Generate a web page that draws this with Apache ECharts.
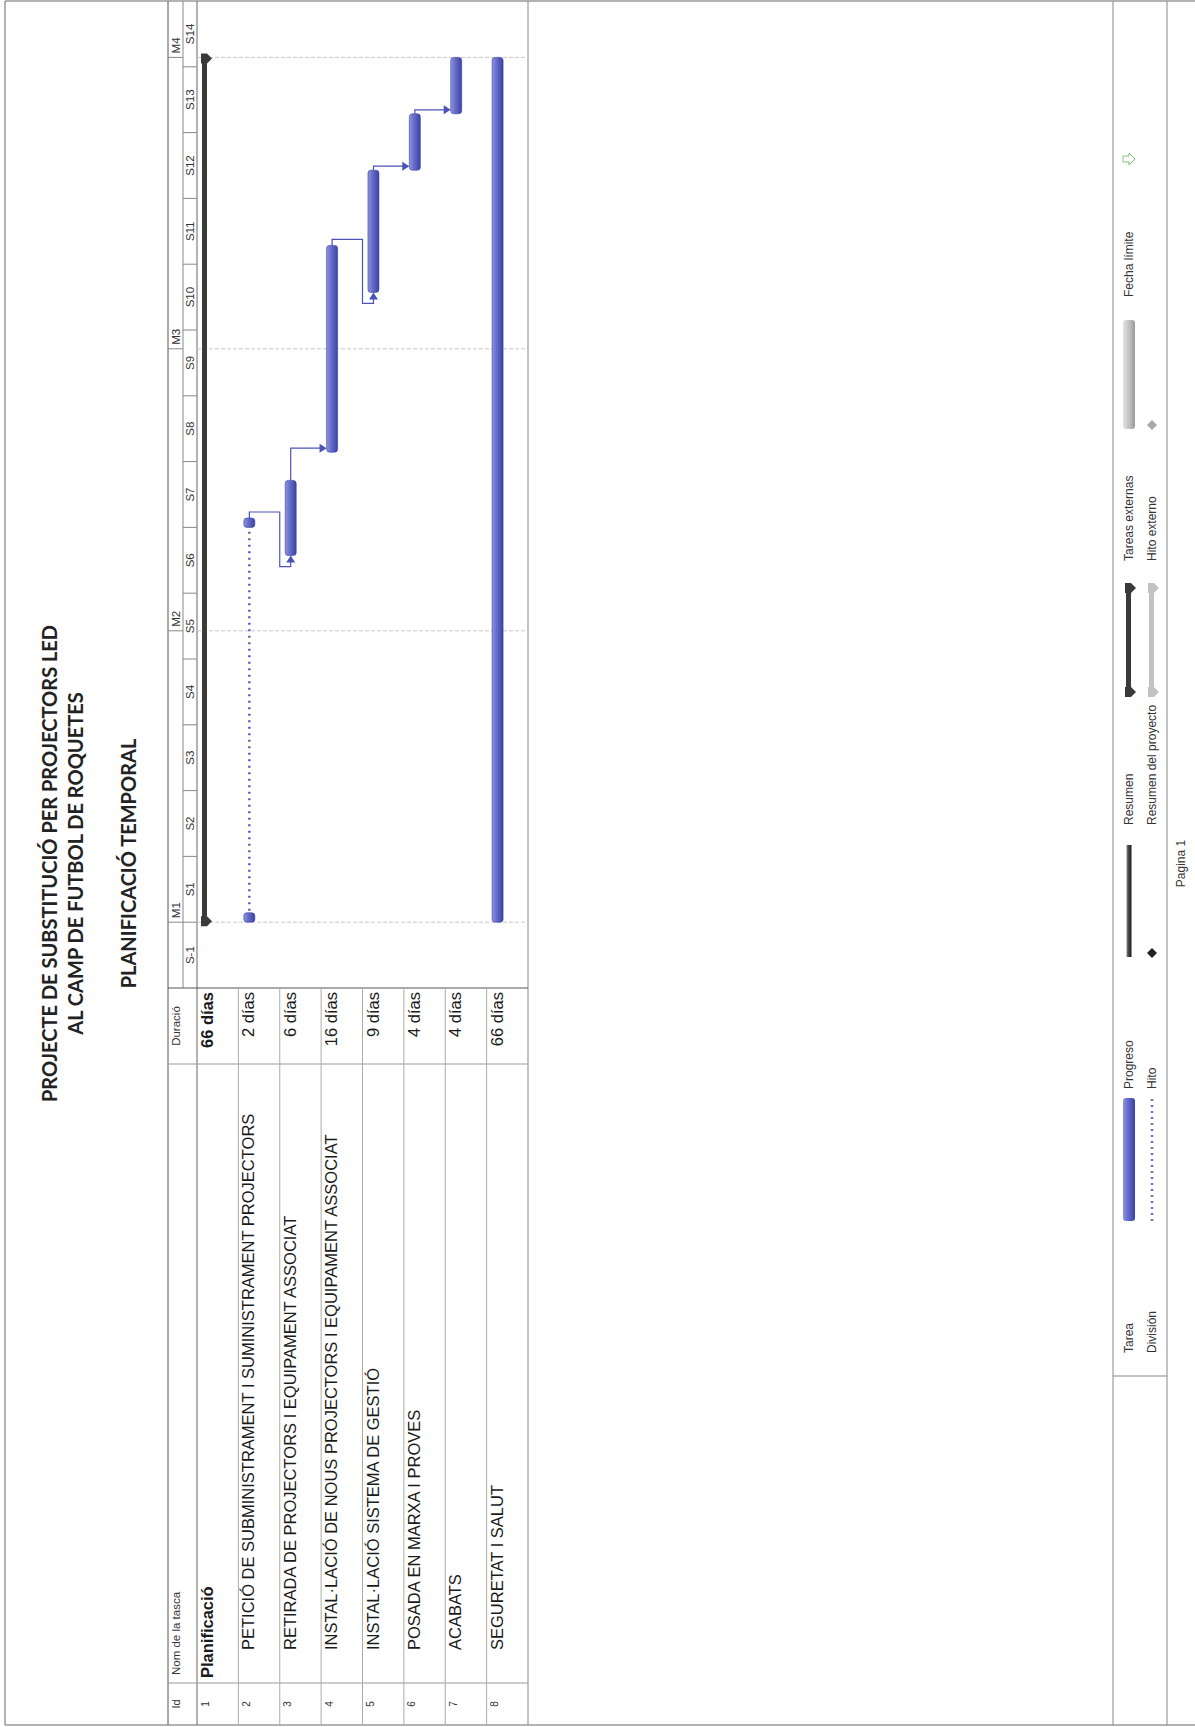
<!DOCTYPE html>
<html>
<head>
<meta charset="utf-8">
<title>Planificació temporal</title>
<script src="https://cdn.jsdelivr.net/npm/echarts@6/dist/echarts.min.js"></script>
<style>
  html, body { margin: 0; padding: 0; background: #fff; overflow: hidden; }
  #page { position: relative; width: 1195px; height: 1727px; overflow: hidden; }
  /* the sheet is printed landscape and shown turned a quarter to the left */
  #chart { position: absolute; left: 0; top: 0; width: 1727px; height: 1195px;
    transform-origin: 0 0; transform: translateY(1727px) rotate(-90deg); }
</style>
</head>
<body>
<div id="page"><div id="chart"></div></div>
<script>
// ---- data ----
const weekLabels = ['S-1', 'S1', 'S2', 'S3', 'S4', 'S5', 'S6', 'S7', 'S8', 'S9', 'S10', 'S11', 'S12', 'S13', 'S14']
const monthLabels = ['M1', 'M2', 'M3', 'M4']
const monthStarts = [0, 31, 61, 92] // days from project start
const taskIds = ['1', '2', '3', '4', '5', '6', '7', '8']
const taskNames = [
  'Planificació',
  'PETICIÓ DE SUBMINISTRAMENT I SUMINISTRAMENT PROJECTORS',
  'RETIRADA DE PROJECTORS I EQUIPAMENT ASSOCIAT',
  'INSTAL·LACIÓ DE NOUS PROJECTORS I EQUIPAMENT ASSOCIAT',
  'INSTAL·LACIÓ SISTEMA DE GESTIÓ',
  'POSADA EN MARXA I PROVES',
  'ACABATS',
  'SEGURETAT I SALUT'
]
const taskDurations = ['66 días', '2 días', '6 días', '16 días', '9 días', '4 días', '4 días', '66 días']
const taskKinds = ['summary', 'task', 'task', 'task', 'task', 'task', 'task', 'task']
const taskLevels = [0, 1, 1, 1, 1, 1, 1, 1]
// [start, end] in days from project start; task 2 is split in two parts
const taskSegments = [
  [[0, 92]],
  [[0, 1], [42, 43]],
  [[39, 47]],
  [[50, 72]],
  [[67, 80]],
  [[80, 86]],
  [[86, 92]],
  [[0, 92]]
]
const taskLinks = [[1, 2], [2, 3], [3, 4], [4, 5], [5, 6]] // predecessor row -> successor row
const legendRowA = ['Tarea', 'Progreso', 'Resumen', 'Tareas externas', 'Fecha límite']
const legendRowB = ['División', 'Hito', 'Resumen del proyecto', 'Hito externo']

// ---- layout (unrotated sheet) ----
const PAGE_W = 1727
const PAGE_H = 1195
const FRAME = { left: 2, right: 1726, top: 5 }
const BOX = { top: 168, mid: 183, head: 197, bottom: 528 }
const COL = { id: 44, name: 663, dur: 739 }
const LEG = { top: 1113, bottom: 1167, split: 351, rowA: 1129, rowB: 1152 }
const SANS = '"Liberation Sans", Arial, sans-serif'
const firstDay = -7
const lastDay = firstDay + weekLabels.length * 7

const blueFill = () => new echarts.graphic.LinearGradient(0, 0, 0, 1, [
  { offset: 0, color: '#9096dc' },
  { offset: 0.35, color: '#6b72cd' },
  { offset: 1, color: '#3a42a6' }
])
const darkFill = () => new echarts.graphic.LinearGradient(0, 0, 0, 1, [
  { offset: 0, color: '#8a8a8a' },
  { offset: 0.4, color: '#474747' },
  { offset: 1, color: '#1c1c1c' }
])
const greyFill = () => new echarts.graphic.LinearGradient(0, 0, 0, 1, [
  { offset: 0, color: '#e2e2e2' },
  { offset: 0.5, color: '#c4c4c4' },
  { offset: 1, color: '#9a9a9a' }
])

function txt (text, x, y, font, align, fill) {
  return {
    type: 'text',
    silent: true,
    style: {
      text: text, x: x, y: y, font: font, fill: fill || '#1a1a1a',
      align: align || 'left', textAlign: align || 'left',
      verticalAlign: 'middle', textVerticalAlign: 'middle'
    }
  }
}
function hline (y, x1, x2, color, w) {
  return { type: 'line', silent: true, shape: { x1: x1, y1: y, x2: x2, y2: y }, style: { stroke: color, lineWidth: w || 1 } }
}
function vline (x, y1, y2, color, w) {
  return { type: 'line', silent: true, shape: { x1: x, y1: y1, x2: x, y2: y2 }, style: { stroke: color, lineWidth: w || 1 } }
}
function summaryShape (x0, x1, top, fill) {
  // thin bar with the pointed caps at both ends
  const cap = (x) => ({
    type: 'polygon',
    shape: { points: [[x - 5, top - 1], [x + 5, top - 1], [x + 5, top + 5], [x, top + 10], [x - 5, top + 5]] },
    style: { fill: fill }
  })
  return [
    { type: 'rect', shape: { x: x0, y: top, width: x1 - x0, height: 5 }, style: { fill: fill } },
    cap(x0 + 1), cap(x1 - 1)
  ]
}
function diamond (x, y, r, fill) {
  return { type: 'polygon', silent: true, shape: { points: [[x, y - r], [x + r, y], [x, y + r], [x - r, y]] }, style: { fill: fill } }
}

// ---- static sheet: frame, title, table header, legend ----
const legendCols = [374, 638, 902, 1166, 1430]
const legendFont = '12px ' + SANS
const graphics = [
  hline(FRAME.top, FRAME.left, FRAME.right, '#9a9a9a', 1.5),
  vline(FRAME.left, FRAME.top, PAGE_H, '#9a9a9a', 1.5),
  vline(FRAME.right, FRAME.top, PAGE_H, '#9a9a9a', 1.5),
  hline(BOX.top, FRAME.left, FRAME.right, '#555'),
  hline(BOX.head, FRAME.left, FRAME.right, '#666'),
  hline(BOX.bottom, FRAME.left, FRAME.right, '#888'),
  hline(BOX.mid, COL.dur, FRAME.right, '#888'),
  vline(COL.id, BOX.top, BOX.bottom, '#999'),
  vline(COL.name, BOX.top, BOX.bottom, '#999'),
  vline(COL.dur, BOX.top, BOX.bottom, '#555'),
  hline(LEG.top, FRAME.left, FRAME.right, '#888'),
  hline(LEG.bottom, FRAME.left, FRAME.right, '#888'),
  vline(LEG.split, LEG.top, LEG.bottom, '#888'),
  txt('PROJECTE DE SUBSTITUCIÓ PER PROJECTORS LED', PAGE_W / 2, 49, 'bold 20px Lato, "Open Sans", sans-serif', 'center', '#222'),
  txt('AL CAMP DE FUTBOL DE ROQUETES', PAGE_W / 2, 75, 'bold 20px Lato, "Open Sans", sans-serif', 'center', '#222'),
  txt('PLANIFICACIÓ TEMPORAL', PAGE_W / 2, 128, 'bold 20px Lato, "Open Sans", sans-serif', 'center', '#222'),
  txt('Id', (FRAME.left + COL.id) / 2, BOX.top + 8, '11px ' + SANS, 'center', '#333'),
  txt('Nom de la tasca', COL.id + 8, BOX.top + 8, '11.5px ' + SANS, 'left', '#333'),
  txt('Duració', (COL.name + COL.dur) / 2, BOX.top + 8, '11.5px ' + SANS, 'center', '#333'),
  txt('Pagina 1', PAGE_W / 2, 1181, legendFont, 'center', '#333')
]
legendRowA.forEach((t, i) => graphics.push(txt(t, legendCols[i], LEG.rowA, legendFont, 'left', '#333')))
legendRowB.forEach((t, i) => graphics.push(txt(t, legendCols[i], LEG.rowB, legendFont, 'left', '#333')))
const s0 = legendCols.map(c => c + 132)
graphics.push(
  { type: 'rect', silent: true, shape: { x: s0[0], y: LEG.rowA - 6, width: 123, height: 12, r: 3 }, style: { fill: blueFill() } },
  { type: 'line', silent: true, shape: { x1: s0[0], y1: LEG.rowB, x2: s0[0] + 123, y2: LEG.rowB }, style: { stroke: '#6b72cd', lineWidth: 2.5, lineDash: [2, 4] } },
  { type: 'rect', silent: true, shape: { x: s0[1], y: LEG.rowA - 2.5, width: 112, height: 5 }, style: { fill: darkFill() } },
  diamond(s0[1] + 4, LEG.rowB, 5, '#222'),
  { type: 'group', silent: true, children: summaryShape(s0[2], s0[2] + 106, LEG.rowA - 3, '#3a3a3a') },
  { type: 'group', silent: true, children: summaryShape(s0[2], s0[2] + 106, LEG.rowB - 3, '#c2c2c2') },
  { type: 'rect', silent: true, shape: { x: s0[3], y: LEG.rowA - 6, width: 109, height: 12, r: 3 }, style: { fill: greyFill() } },
  diamond(s0[3] + 4, LEG.rowB, 5, '#a8a8a8'),
  {
    type: 'polygon',
    silent: true,
    shape: { points: [[s0[4] + 3, LEG.rowA - 6], [s0[4] + 9, LEG.rowA - 6], [s0[4] + 9, LEG.rowA], [s0[4] + 12, LEG.rowA], [s0[4] + 6, LEG.rowA + 6], [s0[4], LEG.rowA], [s0[4] + 3, LEG.rowA]] },
    style: { fill: '#fff', stroke: '#7cc47c', lineWidth: 1 }
  }
)

// ---- series helpers ----
const barData = []
const splitData = []
taskSegments.forEach((segs, row) => {
  segs.forEach((seg, k) => {
    barData.push([seg[0], row, seg[1], taskKinds[row] === 'summary' ? 1 : 0])
    if (k > 0) splitData.push([segs[k - 1][1], row, seg[0]])
  })
})
const linkData = taskLinks.map(([a, b]) => {
  const pa = taskSegments[a]
  return [pa[pa.length - 1][1], a, taskSegments[b][0][0], b]
})

function barCenter (api, row) {
  const c = api.coord([firstDay, row])
  const band = api.size([0, 1])[1]
  return c[1] - band / 2 + band * 0.265
}

function renderBar (params, api) {
  const row = api.value(1)
  const x0 = api.coord([api.value(0), row])[0]
  const x1 = api.coord([api.value(2), row])[0]
  if (api.value(3) === 1) {
    const top = api.coord([firstDay, row])[1] - api.size([0, 1])[1] / 2 + 5
    return { type: 'group', children: summaryShape(x0, x1, top, '#3a3a3a') }
  }
  const yc = barCenter(api, row)
  return {
    type: 'rect',
    shape: { x: x0, y: yc - 5.5, width: Math.max(x1 - x0, 2), height: 11, r: 3 },
    style: { fill: blueFill(), stroke: '#3a42a6', lineWidth: 0.6 }
  }
}

function renderSplit (params, api) {
  const row = api.value(1)
  const x0 = api.coord([api.value(0), row])[0]
  const x1 = api.coord([api.value(2), row])[0]
  const yc = barCenter(api, row)
  return {
    type: 'line',
    shape: { x1: x0 + 2, y1: yc, x2: x1 - 2, y2: yc },
    style: { stroke: '#5a62c0', lineWidth: 2.5, lineDash: [2, 4.5] }
  }
}

function renderLink (params, api) {
  const endDay = api.value(0)
  const from = api.value(1)
  const startDay = api.value(2)
  const to = api.value(3)
  const xFrom = api.coord([endDay, from])[0]
  const xTo = api.coord([startDay, to])[0]
  const yFrom = barCenter(api, from)
  const yTo = barCenter(api, to)
  const stroke = '#4b53b8'
  let points, arrow
  if (startDay >= endDay) {
    const x = xTo + 4
    const tip = yTo - 5.5
    points = [[xFrom, yFrom], [x, yFrom], [x, tip - 6]]
    arrow = [[x - 4.5, tip - 7], [x + 4.5, tip - 7], [x, tip]]
  } else {
    const rowTop = api.coord([firstDay, to])[1] - api.size([0, 1])[1] / 2
    const xOut = xFrom + 6
    const xBack = xTo - 11
    points = [[xFrom, yFrom], [xOut, yFrom], [xOut, rowTop], [xBack, rowTop], [xBack, yTo], [xTo - 6, yTo]]
    arrow = [[xTo - 7, yTo - 4.5], [xTo - 7, yTo + 4.5], [xTo, yTo]]
  }
  return {
    type: 'group',
    children: [
      { type: 'polyline', shape: { points: points }, style: { stroke: stroke, lineWidth: 1.2, fill: null } },
      { type: 'polygon', shape: { points: arrow }, style: { fill: stroke } }
    ]
  }
}

function renderRow (params, api) {
  const i = api.value(1)
  const band = api.size([0, 1])[1]
  const top = api.coord([firstDay, i])[1] - band / 2
  const cs = params.coordSys
  const bold = taskKinds[i] === 'summary' ? 'bold ' : ''
  const ty = top + 10
  const children = []
  if (i > 0) children.push(hline(top, FRAME.left, cs.x, '#ababab'))
  children.push(txt(taskIds[i], (FRAME.left + COL.id) / 2, top + 8, '10px ' + SANS, 'center', '#333'))
  children.push(txt(taskNames[i], COL.id + 5 + taskLevels[i] * 28, ty, bold + '16.5px ' + SANS, 'left'))
  children.push(txt(taskDurations[i], cs.x - 4, ty, bold + '16.5px ' + SANS, 'right'))
  return { type: 'group', children: children }
}

function renderWeek (params, api) {
  const d = api.value(0)
  const x0 = api.coord([d, 0])[0]
  const x1 = api.coord([d + 7, 0])[0]
  const children = []
  if (params.dataIndex > 0) children.push(vline(x0, BOX.mid, BOX.head, '#888'))
  children.push(txt(weekLabels[params.dataIndex], (x0 + x1) / 2, (BOX.mid + BOX.head) / 2, '11.5px ' + SANS, 'center', '#333'))
  return { type: 'group', children: children }
}

function renderMonth (params, api) {
  const x0 = api.coord([api.value(0), 0])[0]
  return {
    type: 'group',
    children: [
      vline(x0, BOX.top, BOX.mid, '#888'),
      txt(monthLabels[params.dataIndex], x0 + 4, (BOX.top + BOX.mid) / 2, '11.5px ' + SANS, 'left', '#333')
    ]
  }
}

function renderMonthLine (params, api) {
  const x = api.coord([api.value(0), 0])[0]
  const cs = params.coordSys
  return {
    type: 'line',
    shape: { x1: x, y1: cs.y, x2: x, y2: cs.y + cs.height },
    style: { stroke: '#c8c8c8', lineWidth: 1, lineDash: [4, 2] }
  }
}

const chart = echarts.init(document.getElementById('chart'), null, { renderer: 'svg', width: PAGE_W, height: PAGE_H })
chart.setOption({
  animation: false,
  backgroundColor: '#fff',
  grid: { left: COL.dur, right: PAGE_W - FRAME.right, top: BOX.head, bottom: PAGE_H - BOX.bottom },
  xAxis: { type: 'value', min: firstDay, max: lastDay, interval: 7, show: false },
  yAxis: { type: 'category', data: taskIds, inverse: true, show: false },
  graphic: { elements: graphics },
  series: [
    { type: 'custom', name: 'months', clip: false, silent: true, data: monthStarts.map(d => [d, 0]), renderItem: renderMonth },
    { type: 'custom', name: 'weeks', clip: false, silent: true, data: weekLabels.map((w, i) => [firstDay + i * 7, 0]), renderItem: renderWeek },
    { type: 'custom', name: 'monthLines', clip: false, silent: true, data: monthStarts.map(d => [d, 0]), renderItem: renderMonthLine },
    { type: 'custom', name: 'table', clip: false, silent: true, data: taskIds.map((id, i) => [firstDay, i]), renderItem: renderRow },
    { type: 'custom', name: 'split', clip: false, silent: true, data: splitData, encode: { x: [0, 2], y: 1 }, renderItem: renderSplit },
    { type: 'custom', name: 'links', clip: false, silent: true, data: linkData, encode: { x: [0, 2], y: [1, 3] }, renderItem: renderLink },
    { type: 'custom', name: 'bars', clip: false, data: barData, encode: { x: [0, 2], y: 1 }, renderItem: renderBar }
  ]
})
</script>
</body>
</html>
